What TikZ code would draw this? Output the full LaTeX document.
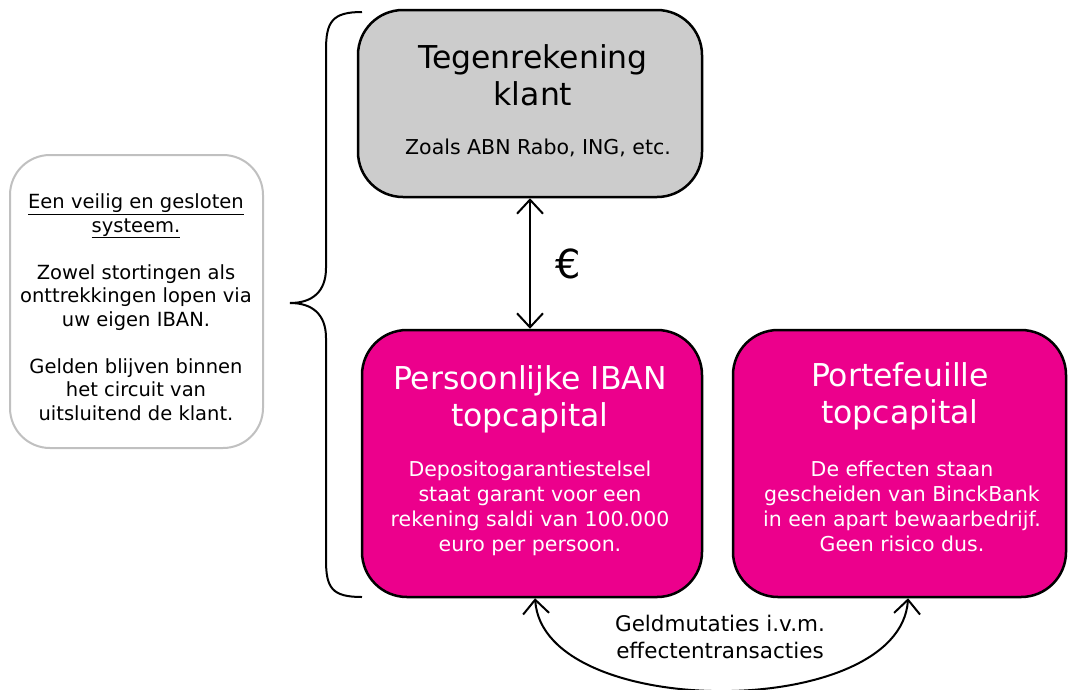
\documentclass[tikz,border=0pt]{standalone}
\usepackage{fontspec}
\setmainfont{DejaVu Sans}
\usetikzlibrary{arrows.meta,calc}
\definecolor{pinkfill}{HTML}{EC008C}
\definecolor{grayfill}{HTML}{CCCCCC}
\definecolor{sideborder}{HTML}{C0C0C0}
\begin{document}
\begin{tikzpicture}[x=1pt,y=-1pt,
  box/.style={draw=black,line width=2.5pt,rounded corners=45pt,inner sep=0pt},
  sidebox/.style={draw=sideborder,line width=2pt,rounded corners=40pt,fill=white,inner sep=0pt},
  title/.style={font=\fontsize{31.5}{37}\selectfont,align=center,inner sep=0pt,anchor=base},
  body/.style={font=\fontsize{20.5}{25}\selectfont,align=center,inner sep=0pt,anchor=base},
  sidetext/.style={font=\fontsize{19.5}{23.5}\selectfont,align=center,inner sep=0pt,anchor=base},
  arr/.style={line width=2pt,{Straight Barb[length=14pt,width=26pt,line width=2pt]}-{Straight Barb[length=14pt,width=26pt,line width=2pt]}}
]
\useasboundingbox (0,0) rectangle (1068,689);
\fill[white] (0,0) rectangle (1068,689);

% boxes
\node[box,fill=grayfill,minimum width=344pt,minimum height=187pt] (gray) at (530,103.5) {};
\node[box,fill=pinkfill,minimum width=340pt,minimum height=267pt] (pinkL) at (532,463.5) {};
\node[box,fill=pinkfill,minimum width=333pt,minimum height=267pt] (pinkR) at (899.5,463.5) {};
\node[sidebox,minimum width=253pt,minimum height=293pt] (side) at (136.5,301.5) {};

% gray box text
\node[title] (t1) at (533,105) {Tegenrekening\\klant};
\node[body] (t1b) at (538,154) {Zoals ABN Rabo, ING, etc.};

% pink left text
\node[title,text=white] (t2) at (530,426) {Persoonlijke IBAN\\topcapital};
\node[body,text=white] (t2b) at (530,551) {Depositogarantiestelsel\\staat garant voor een\\rekening saldi van 100.000\\euro per persoon.};

% pink right text
\node[title,text=white] (t3) at (900,423) {Portefeuille\\topcapital};
\node[body,text=white] (t3b) at (902,551) {De effecten staan\\gescheiden van BinckBank\\in een apart bewaarbedrijf.\\Geen risico dus.};

% side text
\node[sidetext] (st) at (136,420) {\underline{Een veilig en gesloten}\\\underline{systeem.}\\[23.5pt]Zowel stortingen als\\onttrekkingen lopen via\\uw eigen IBAN.\\[23.5pt]Gelden blijven binnen\\het circuit van\\uitsluitend de klant.};

% brace
\coordinate (btop) at (362,12);
\coordinate (bbot) at (362,597);
\coordinate (btip) at (290,303);
\draw[line width=2pt] (btop) .. controls (332,12) and (326,22) .. (326,50) -- (326,268)
  .. controls (326,292) and (312,303) .. (btip)
  .. controls (312,303) and (326,314) .. (326,338) -- (326,560)
  .. controls (326,588) and (332,597) .. (bbot);

% vertical arrow
\draw[arr] (gray.south) -- (gray.south |- pinkL.north) node[midway,right=24pt,font=\fontsize{40}{40}\selectfont,inner sep=0pt] (euro) {€};

% bottom curved arrow
\coordinate (ca) at ($(pinkL.south west)!0.509!(pinkL.south east)$);
\coordinate (cb) at ($(pinkR.south west)!0.5255!(pinkR.south east)$);
\draw[arr] (ca) .. controls ($(ca)+(8,123)$) and ($(cb)+(-8,123)$) .. (cb);
\node[body,font=\fontsize{21.5}{27}\selectfont] (geld) at (720,658) {Geldmutaties i.v.m.\\effectentransacties};
\end{tikzpicture}
\end{document}
